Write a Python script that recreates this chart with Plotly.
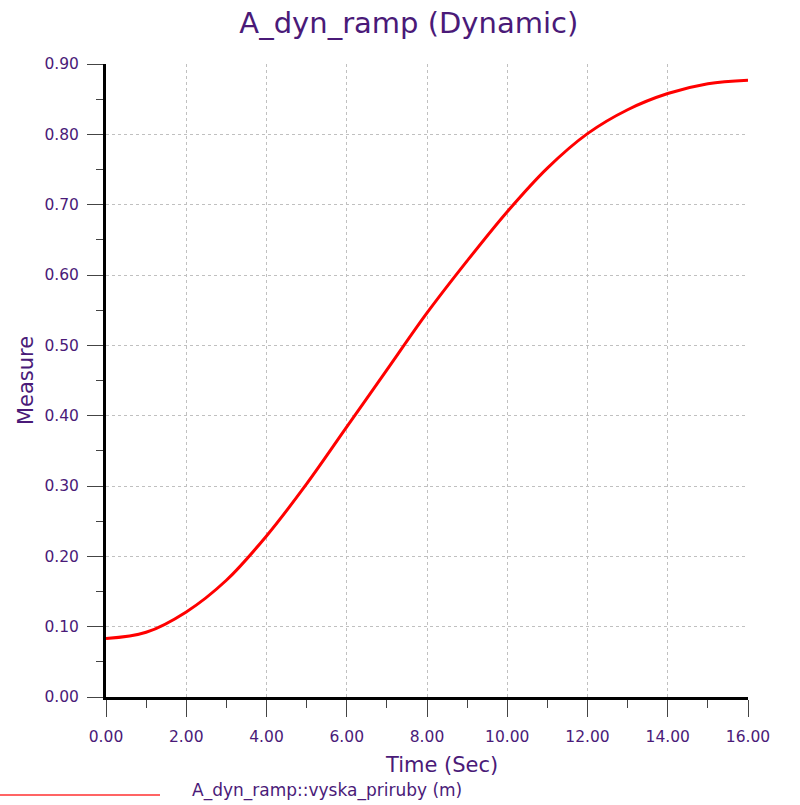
import plotly.graph_objects as go

time_sec = [0, 1, 2, 3, 4, 5, 6, 7, 8, 9, 10, 11, 12, 13, 14, 15, 16]
measure = [0.083, 0.092, 0.121, 0.166, 0.229, 0.303, 0.384, 0.465, 0.546,
           0.620, 0.690, 0.752, 0.801, 0.835, 0.858, 0.872, 0.877]
series_name = "A_dyn_ramp::vyska_priruby (m)"
title_text = "A_dyn_ramp (Dynamic)"
x_title = "Time (Sec)"
y_title = "Measure"

PURPLE = "#4a1a78"
FONT = "DejaVu Sans, sans-serif"

fig = go.Figure()
fig.add_trace(go.Scatter(
    x=time_sec, y=measure, mode="lines", name=series_name,
    line=dict(color="#ff0000", width=3, shape="spline", smoothing=1.0),
    showlegend=False,
))

axis_common = dict(
    showline=True, linecolor="black", linewidth=3, mirror=False,
    showgrid=True, gridcolor="#c0c0c0", griddash="dot", gridwidth=1,
    zeroline=False, ticks="outside", tickcolor="#444444", tickwidth=1,
    tickfont=dict(family=FONT, size=15.5, color=PURPLE),
    tickformat=".2f",
)

fig.update_xaxes(
    **axis_common, range=[0, 16], dtick=2, tick0=0, ticklen=17,
    ticklabelstandoff=6,
    minor=dict(dtick=1, ticklen=8, ticks="outside", tickcolor="#444444", showgrid=False),
)
fig.update_yaxes(
    **axis_common, range=[0, 0.9], dtick=0.1, tick0=0, ticklen=16,
    ticklabelstandoff=5,
    minor=dict(dtick=0.05, ticklen=7, ticks="outside", tickcolor="#444444", showgrid=False),
    title=dict(text=y_title, font=dict(family=FONT, size=21, color=PURPLE), standoff=6),
)

fig.update_layout(
    width=800, height=805,
    margin=dict(l=106, r=52, t=64, b=108),
    paper_bgcolor="white", plot_bgcolor="white",
    title=dict(text=title_text, x=0.511, xanchor="center", y=0.972, yanchor="middle",
               font=dict(family=FONT, size=29, color=PURPLE)),
)

# x-axis title (slightly right of centre, as in the original)
fig.add_annotation(text=x_title, xref="paper", yref="paper",
                   x=335/642, y=-68/633, xanchor="center", yanchor="middle",
                   showarrow=False, font=dict(family=FONT, size=21, color=PURPLE))

# legend-like sample line and label under the chart
fig.add_shape(type="line", xref="paper", yref="paper",
              x0=-106/642, x1=54/642, y0=-98/633, y1=-98/633,
              line=dict(color="#ff3030", width=1.5))
fig.add_annotation(text=series_name, xref="paper", yref="paper",
                   x=84/642, y=-93/633, xanchor="left", yanchor="middle",
                   showarrow=False, font=dict(family=FONT, size=17, color=PURPLE))

fig.write_html("out.html")
